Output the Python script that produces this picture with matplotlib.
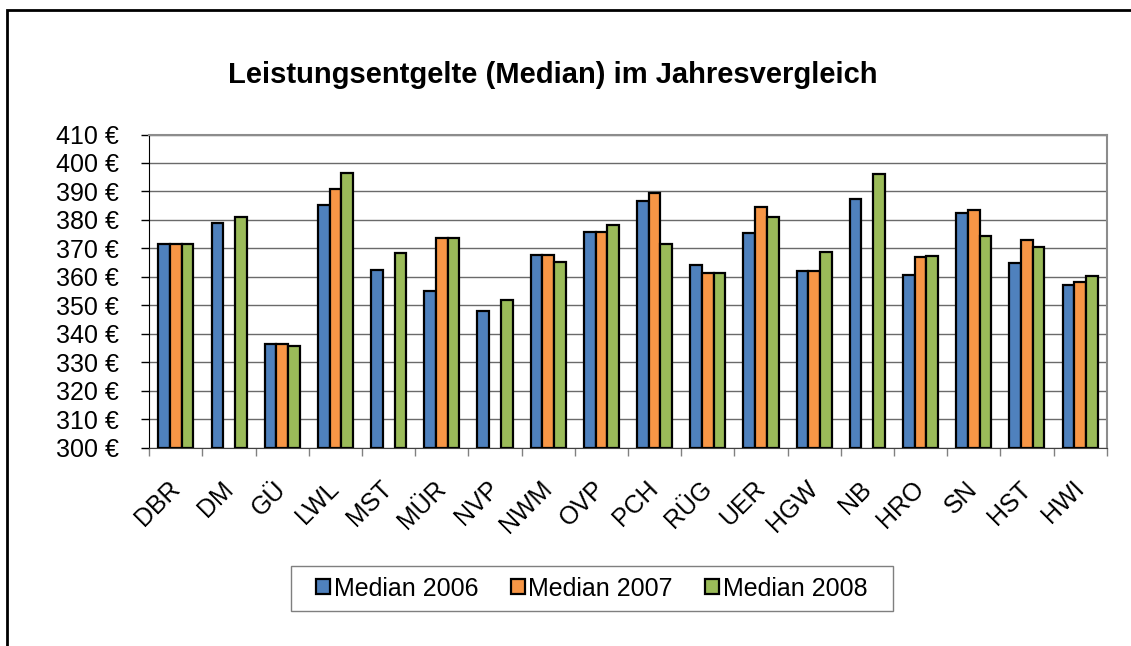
import matplotlib.pyplot as plt
import matplotlib.patches as mpatches
import numpy as np

plt.rcParams['font.family'] = ['Liberation Sans', 'DejaVu Sans']

# Daten
kreise = ['DBR', 'DM', 'GÜ', 'LWL', 'MST', 'MÜR', 'NVP', 'NWM', 'OVP',
          'PCH', 'RÜG', 'UER', 'HGW', 'NB', 'HRO', 'SN', 'HST', 'HWI']
median_2006 = [371.5, 378.9, 336.5, 385.4, 362.3, 355.0, 348.1, 367.8, 375.9,
               386.5, 364.0, 375.5, 362.1, 387.4, 360.8, 382.4, 364.9, 357.0]
median_2007 = [371.5, np.nan, 336.5, 390.8, np.nan, 373.5, np.nan, 367.8, 375.9,
               389.3, 361.4, 384.7, 362.1, np.nan, 366.9, 383.4, 372.8, 358.3]
median_2008 = [371.5, 381.2, 335.7, 396.4, 368.3, 373.8, 352.0, 365.2, 378.1,
               371.6, 361.4, 381.1, 368.8, 396.0, 367.2, 374.2, 370.4, 360.3]
serien = ['Median 2006', 'Median 2007', 'Median 2008']
farben = ['#4F81BD', '#F79646', '#9BBB59']

fig = plt.figure(figsize=(11.31, 6.46), dpi=100)
ax = fig.add_axes([149.3 / 1131, 1 - 447.7 / 646, (1106.7 - 149.3) / 1131, (447.7 - 134.5) / 646])

x = np.arange(len(kreise))
breite = 0.22
for i, (werte, name, farbe) in enumerate(zip([median_2006, median_2007, median_2008], serien, farben)):
    ax.bar(x + (i - 1) * breite, np.array(werte) - 300, bottom=300, width=breite,
           color=farbe, edgecolor='black', linewidth=1.6, label=name, zorder=3)

ax.set_ylim(300, 410)
ax.set_xlim(-0.5, len(kreise) - 0.5)
ax.set_yticks(np.arange(300, 411, 10))
ax.set_yticklabels([f'{v} €' for v in range(300, 411, 10)], fontsize=18)
ax.yaxis.grid(True, color='#6a6a6a', linewidth=1.0, zorder=0)
ax.tick_params(axis='y', length=6, width=1, pad=16)

# Striche zwischen den Kategorien, Beschriftung mittig
ax.set_xticks(np.arange(-0.5, len(kreise), 1))
ax.set_xticklabels([])
ax.tick_params(axis='x', which='major', length=6, width=1, color='#808080')
ax.set_xticks(x, minor=True)
ax.set_xticklabels(kreise, minor=True, rotation=45, ha='right', va='center',
                   rotation_mode='anchor', fontsize=18)
ax.tick_params(axis='x', which='minor', length=0, pad=27)

for s in ['top', 'right']:
    ax.spines[s].set_color('#8c8c8c')
    ax.spines[s].set_linewidth(1.5)
ax.spines['left'].set_color('black')
ax.spines['bottom'].set_color('#404040')

fig.text(0.489, 1 - 75 / 646, 'Leistungsentgelte (Median) im Jahresvergleich',
         ha='center', va='center', fontsize=21, fontweight='bold')

# Legende ohne eigenen Rahmen, Rahmen separat gezeichnet
fig.legend(loc='center', bbox_to_anchor=(592 / 1131, 1 - 588.5 / 646), ncol=3,
           fontsize=18, frameon=False,
           handlelength=0.55, handleheight=0.55, handletextpad=0.15, columnspacing=1.3)
fig.patches.append(mpatches.Rectangle((291 / 1131, 1 - 611 / 646), 602 / 1131, 45 / 646,
                                      transform=fig.transFigure, fill=False,
                                      edgecolor='#7f7f7f', linewidth=1.0))

# Rahmen um das Diagramm
fig.patches.append(mpatches.Rectangle((7 / 1131, -0.1), 1.2, 1 - 10 / 646 + 0.1,
                                      transform=fig.transFigure, fill=False,
                                      edgecolor='black', linewidth=2))

plt.savefig('out.png', dpi=100)
